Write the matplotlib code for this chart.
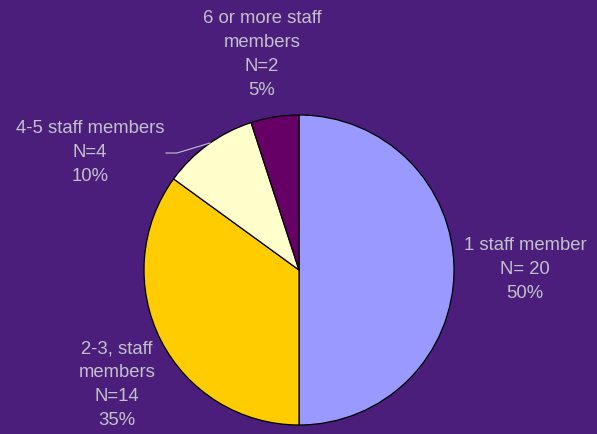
import matplotlib.pyplot as plt

# staff-size groups
groups = ['1 staff member', '2-3, staff\nmembers', '4-5 staff members', '6 or more staff\nmembers']
counts = [20, 14, 4, 2]
n_labels = ['N= 20', 'N=14', 'N=4', 'N=2']
shares = [50, 35, 10, 5]
colors = ['#9999FF', '#FFCC00', '#FFFFCC', '#660066']

bg = '#4A1E7A'
txt = '#C4C0CC'

fig = plt.figure(figsize=(5.97, 4.34), dpi=100, facecolor=bg)
ax = fig.add_axes([0, 0, 1, 1])
ax.set_facecolor(bg)

ax.pie(counts, colors=colors, startangle=90, counterclock=False,
       center=(299, 164), radius=155, frame=True,
       wedgeprops=dict(edgecolor='black', linewidth=0.9))

# pie() resets the view, so fix the pixel-sized limits afterwards
ax.set_xlim(0, 597)
ax.set_ylim(0, 434)
ax.set_aspect('equal')
ax.axis('off')

# label positions (x, y of first line top) in pixel coords
label_pos = [(525, 434 - 237), (117, 434 - 340), (90, 434 - 120), (262, 434 - 10)]
for g, n, s, (x, y) in zip(groups, n_labels, shares, label_pos):
    ax.text(x, y, f'{g}\n{n}\n{s}%', ha='center', va='top', color=txt,
            fontsize=13.3, family='Liberation Sans', linespacing=1.53)

# leader line for the 10% slice
ax.plot([166, 177, 210], [434 - 153, 434 - 153, 434 - 143], color=txt, lw=0.8)

fig.savefig('out.png', dpi=100, facecolor=bg)
